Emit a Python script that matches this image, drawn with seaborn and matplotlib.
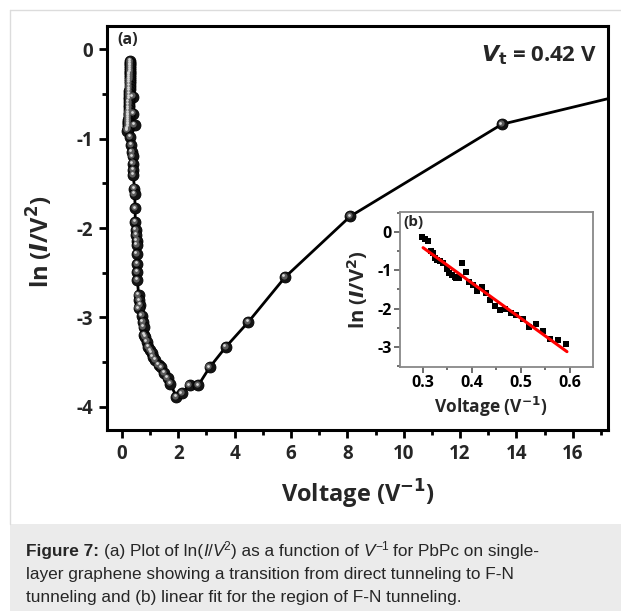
import matplotlib
matplotlib.use("Agg")
import matplotlib.pyplot as plt
import numpy as np
import pandas as pd
import seaborn as sns
from matplotlib.patches import Rectangle
from matplotlib.lines import Line2D
from matplotlib.transforms import offset_copy
from matplotlib.ticker import MultipleLocator

# ---------------- data ----------------
main_x = [0.30, 0.30, 0.30, 0.29, 0.29, 0.29, 0.29, 0.28, 0.28, 0.28, 0.28, 0.27, 0.27, 0.27, 0.27,
          0.26, 0.26, 0.39, 0.26, 0.26, 0.25, 0.25, 0.25, 0.25, 0.24, 0.41, 0.24, 0.24, 0.24, 0.23,
          0.23, 0.23, 0.45, 0.22, 0.22, 0.21, 0.20, 0.19, 0.30, 0.33, 0.35, 0.38, 0.39, 0.41, 0.41,
          0.44, 0.45, 0.47, 0.47, 0.50, 0.51, 0.53, 0.53, 0.53, 0.55, 0.55, 0.55, 0.59, 0.62, 0.65,
          0.59, 0.71, 0.74, 0.77, 0.79, 0.83, 0.89, 0.94, 1.00, 1.06, 1.10, 1.18, 1.30, 1.40, 1.50,
          1.62, 1.72, 1.93, 2.13, 2.40, 2.71, 3.11, 3.69, 4.49, 5.79, 8.10, 13.48, 19.0]
main_y = [-0.13, -0.15, -0.17, -0.19, -0.21, -0.23, -0.25, -0.27, -0.29, -0.31, -0.33, -0.35, -0.38, -0.41, -0.44,
          -0.47, -0.50, -0.53, -0.53, -0.56, -0.59, -0.62, -0.65, -0.68, -0.71, -0.72, -0.73, -0.75, -0.77, -0.79,
          -0.81, -0.83, -0.85, -0.85, -0.87, -0.89, -0.90, -0.91, -0.98, -1.07, -1.15, -1.20, -1.28, -1.35, -1.41,
          -1.56, -1.62, -1.78, -1.93, -2.02, -2.08, -2.14, -2.19, -2.29, -2.40, -2.49, -2.58, -2.75, -2.81, -2.86,
          -2.90, -2.98, -3.05, -3.11, -3.20, -3.22, -3.27, -3.33, -3.37, -3.40, -3.44, -3.48, -3.53, -3.56, -3.62,
          -3.68, -3.74, -3.89, -3.85, -3.76, -3.76, -3.56, -3.33, -3.05, -2.55, -1.87, -0.84, -0.42]

inset_x = [0.298, 0.305, 0.311, 0.317, 0.322, 0.325, 0.330, 0.335, 0.341, 0.349, 0.354, 0.359,
           0.365, 0.369, 0.375, 0.381, 0.388, 0.395, 0.403, 0.411, 0.420, 0.429, 0.437, 0.448,
           0.458, 0.468, 0.480, 0.490, 0.504, 0.517, 0.531, 0.545, 0.560, 0.576, 0.593]
inset_y = [-0.12, -0.19, -0.24, -0.49, -0.56, -0.69, -0.73, -0.76, -0.80, -0.97, -1.06, -1.12,
           -1.17, -1.19, -1.21, -0.82, -1.04, -1.30, -1.38, -1.54, -1.43, -1.60, -1.78, -1.93,
           -2.04, -2.01, -2.12, -2.17, -2.28, -2.49, -2.40, -2.58, -2.78, -2.82, -2.92]

fit_x = [0.301, 0.594]
fit_y = [-0.41, -3.12]

main_xticks = [0, 2, 4, 6, 8, 10, 12, 14, 16]
main_yticks = [0, -1, -2, -3, -4]
inset_xticks = [0.3, 0.4, 0.5, 0.6]
inset_yticks = [0, -1, -2, -3]

# caption pieces: (text, style, superscript, space before)
caption_line1 = [("Figure 7:", "bold", False, False),
                 ("(a) Plot of ln(", "normal", False, True),
                 ("I", "italic", False, False),
                 ("/", "normal", False, False),
                 ("V", "italic", False, False),
                 ("2", "normal", True, False),
                 (") as a function of", "normal", False, False),
                 ("V", "italic", False, True),
                 ("\u22121", "normal", True, False),
                 ("for PbPc on single-", "normal", False, True)]
caption_line2 = "layer graphene showing a transition from direct tunneling to F-N"
caption_line3 = "tunneling and (b) linear fit for the region of F-N tunneling."

# ---------------- style ----------------
sns.set_theme(style="ticks")
plt.rcParams.update({
    "font.family": ["Open Sans", "DejaVu Sans"],
    "font.weight": "bold",
    "mathtext.fontset": "custom",
    "mathtext.rm": "DejaVu Sans:bold",
    "mathtext.bf": "DejaVu Sans:bold",
    "mathtext.it": "DejaVu Sans:italic:bold",
    "mathtext.sf": "DejaVu Sans:bold",
    "axes.linewidth": 2.0,
})

W, H = 621, 611
fig = plt.figure(figsize=(W / 100, H / 100), dpi=100, facecolor="white")

# page decorations
fig.patches.append(Rectangle((10 / W, 0), 1 - 10 / W, (611 - 524) / H, transform=fig.transFigure,
                             facecolor="#ebebeb", edgecolor="none", zorder=0))
fig.add_artist(Line2D([10 / W, 10 / W], [(611 - 524) / H, 1 - 10 / H], transform=fig.transFigure,
                      color="#dcdcdc", lw=1.0))
fig.add_artist(Line2D([10 / W, 1], [1 - 10 / H, 1 - 10 / H], transform=fig.transFigure,
                      color="#dcdcdc", lw=1.0))

# ---------------- main axes ----------------
ax = fig.add_axes([107 / W, 1 - 430 / H, (608 - 107) / W, (430 - 26) / H])
df = pd.DataFrame({"v": main_x, "ln": main_y})
sns.lineplot(data=df, x="v", y="ln", sort=False, estimator=None, color="black", lw=2.0, ax=ax, zorder=2)
sns.scatterplot(data=df, x="v", y="ln", s=62, color="#141414", edgecolor="black", linewidth=0.6,
                ax=ax, zorder=3)
sns.scatterplot(data=df, x="v", y="ln", s=20, color="#5c5c5c", linewidth=0, ax=ax, zorder=4)
ax.collections[-1].set_offset_transform(offset_copy(ax.transData, fig=fig, x=-1.2, y=1.2, units="dots"))
sns.scatterplot(data=df, x="v", y="ln", s=4, color="#d8d8d8", linewidth=0, ax=ax, zorder=5)
ax.collections[-1].set_offset_transform(offset_copy(ax.transData, fig=fig, x=-1.6, y=1.8, units="dots"))

ax.set_xlim(-0.53, 17.25)
ax.set_ylim(-4.26, 0.26)
ax.set_xticks(main_xticks)
ax.set_yticks(main_yticks)
ax.set_xticklabels([str(t) for t in main_xticks])
ax.set_yticklabels([str(t) for t in main_yticks])
ax.xaxis.set_minor_locator(MultipleLocator(1))
ax.yaxis.set_minor_locator(MultipleLocator(0.5))
ax.tick_params(which="major", direction="out", length=6, width=2.0, labelsize=13.5, pad=4, color="black")
ax.tick_params(which="minor", direction="out", length=3.5, width=2.0, color="black")
for lab in ax.get_xticklabels() + ax.get_yticklabels():
    lab.set_fontweight("bold")
for sp in ax.spines.values():
    sp.set_linewidth(2.2)
    sp.set_color("black")
ax.set_xlabel(r"Voltage (V$^{-1}$)", fontsize=17, fontweight="bold", labelpad=10)
ax.set_ylabel(r"ln ($\mathit{I}$/V$^{2}$)", fontsize=17, fontweight="bold")
ax.yaxis.set_label_coords(-0.102, 0.465)
ax.text(0.02, 0.985, "(a)", transform=ax.transAxes, fontsize=11.5, fontweight="bold", va="top", ha="left")
ax.text(0.978, 0.928, r"$\mathit{V}_{\mathrm{t}}$ = 0.42 V", transform=ax.transAxes, fontsize=16,
        fontweight="bold", va="center", ha="right")

# ---------------- inset ----------------
axi = fig.add_axes([400 / W, 1 - 367 / H, 193 / W, 155 / H])
dfi = pd.DataFrame({"v": inset_x, "ln": inset_y})
sns.scatterplot(data=dfi, x="v", y="ln", marker="s", s=14, color="black", linewidth=0, ax=axi, zorder=3)
dff = pd.DataFrame({"v": fit_x, "ln": fit_y})
sns.lineplot(data=dff, x="v", y="ln", color="#ff0000", lw=2.2, ax=axi, zorder=4)
axi.set_xlim(0.254, 0.647)
axi.set_ylim(-3.52, 0.52)
axi.set_xticks(inset_xticks)
axi.set_yticks(inset_yticks)
axi.set_xticklabels([f"{t:.1f}" for t in inset_xticks])
axi.set_yticklabels([str(t) for t in inset_yticks])
axi.xaxis.set_minor_locator(MultipleLocator(0.05))
axi.yaxis.set_minor_locator(MultipleLocator(0.5))
axi.tick_params(which="major", direction="out", length=4, width=1.2, labelsize=11.5, pad=2,
                color="#555555", labelcolor="black")
axi.tick_params(which="minor", direction="out", length=2.5, width=1.2, color="#555555")
for lab in axi.get_xticklabels() + axi.get_yticklabels():
    lab.set_fontweight("bold")
for sp in axi.spines.values():
    sp.set_linewidth(1.3)
    sp.set_color("#888888")
axi.set_xlabel(r"Voltage (V$^{-1}$)", fontsize=12.5, fontweight="bold")
axi.xaxis.set_label_coords(0.47, -0.18)
axi.set_ylabel(r"ln ($\mathit{I}$/V$^{2}$)", fontsize=14.5, fontweight="bold")
axi.yaxis.set_label_coords(-0.155, 0.5)
axi.text(0.02, 0.98, "(b)", transform=axi.transAxes, fontsize=11, fontweight="bold", va="top", ha="left")

# ---------------- caption ----------------
cap_size = 12.4
cap_font = "Liberation Sans"
renderer = fig.canvas.get_renderer()


def text_width(s, **kw):
    t = fig.text(0, 0, s, fontsize=kw.get("size", cap_size), family=cap_font,
                 fontweight=kw.get("weight", "normal"), fontstyle=kw.get("style", "normal"))
    w = t.get_window_extent(renderer).width
    t.remove()
    return w


space_w = text_width("x x") - text_width("xx")
x_px = 26.0
base_px = 556.0
for txt, style, sup, sp in caption_line1:
    if sp:
        x_px += space_w
    size = cap_size * 0.7 if sup else cap_size
    y_px = base_px - (6.5 if sup else 0)
    weight = "bold" if style == "bold" else "normal"
    fstyle = "italic" if style == "italic" else "normal"
    t = fig.text(x_px / W, 1 - y_px / H, txt, fontsize=size, family=cap_font, fontweight=weight,
                 fontstyle=fstyle, va="baseline", ha="left")
    x_px += t.get_window_extent(renderer).width

fig.text(26 / W, 1 - 579 / H, caption_line2, fontsize=cap_size, fontweight="normal",
         family=cap_font, va="baseline", ha="left")
fig.text(26 / W, 1 - 602 / H, caption_line3, fontsize=cap_size, fontweight="normal",
         family=cap_font, va="baseline", ha="left")

fig.savefig("out.png", dpi=100, facecolor="white")
